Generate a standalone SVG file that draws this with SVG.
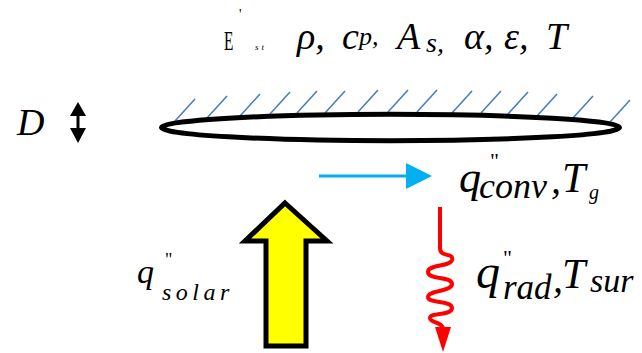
<svg xmlns="http://www.w3.org/2000/svg" width="642" height="353" viewBox="0 0 642 353">
<style>
text{fill:#000}
.m{font-style:italic}
.h{stroke:#4A7EBB;stroke-width:1.6;fill:none}
</style>
<rect width="642" height="353" fill="#fff"/>
<g id="plate">
<g class="h">
<line x1="175" y1="121" x2="195" y2="99"/>
<line x1="207" y1="118" x2="227" y2="96"/>
<line x1="240" y1="116" x2="260" y2="94"/>
<line x1="270" y1="114" x2="290" y2="92"/>
<line x1="297" y1="113" x2="317" y2="91"/>
<line x1="325" y1="113" x2="345" y2="91"/>
<line x1="358" y1="112" x2="378" y2="90"/>
<line x1="388" y1="112" x2="408" y2="90"/>
<line x1="417" y1="112" x2="437" y2="90"/>
<line x1="452" y1="113" x2="472" y2="91"/>
<line x1="481" y1="113" x2="501" y2="91"/>
<line x1="508" y1="114" x2="528" y2="92"/>
<line x1="537" y1="116" x2="557" y2="94"/>
<line x1="573" y1="118" x2="593" y2="96"/>
<line x1="610" y1="122" x2="630" y2="100"/>
</g>
<ellipse cx="390.5" cy="127.5" rx="229" ry="13.2" fill="none" stroke="#000" stroke-width="5"/>
</g>
<g id="all-text" font-family="Liberation Serif, Times New Roman, serif">
<g id="props">
<text x="450" y="50" transform="translate(224,0) scale(0.55,1) translate(-450,0)" font-size="28">E</text>
<text x="239" y="19" font-size="14">'</text>
<text class="m" x="255" y="50" font-size="9" letter-spacing="3">st</text>
<text class="m" x="297" y="49" font-size="38">ρ,</text>
<text class="m" x="342" y="49" font-size="38">c</text>
<text class="m" x="359" y="45" font-size="26">p,</text>
<text class="m" x="397" y="49" font-size="38">A</text>
<text class="m" x="426" y="52" font-size="28">s,</text>
<text class="m" x="464" y="49" font-size="38">α,</text>
<text class="m" x="504" y="49" font-size="38">ε,</text>
<text class="m" x="546" y="49" font-size="38">T</text>
</g>
<g id="thickness">
<text class="m" x="17" y="135" font-size="38">D</text>
<polygon points="78,102 86,116 79.5,116 79.5,128 86,128 78,143 70,128 76.5,128 76.5,116 70,116" fill="#000"/>
</g>
<g id="conv-label">
<text class="m" x="459" y="192" font-size="44">q</text>
<text x="490" y="168" font-size="22">"</text>
<text class="m" x="479" y="198" font-size="36">conv</text>
<text class="m" x="551" y="193" font-size="40">,</text>
<text class="m" x="562" y="192" font-size="42">T</text>
<text class="m" x="589" y="199" font-size="20">g</text>
</g>
<g id="solar-label">
<text class="m" x="137" y="283" font-size="34">q</text>
<text x="165" y="266" font-size="18">"</text>
<text class="m" x="162" y="300" font-size="24" letter-spacing="4.5">solar</text>
</g>
<g id="rad-label">
<text class="m" x="476" y="288" font-size="48">q</text>
<text x="503" y="265" font-size="22">"</text>
<text class="m" x="503" y="299" font-size="35">rad</text>
<text class="m" x="553" y="292" font-size="40">,</text>
<text class="m" x="562" y="288" font-size="42">T</text>
<text class="m" x="590" y="292" font-size="34">sur</text>
</g>
</g>
<g id="connectors">
<g id="conv-arrow">
<line x1="319" y1="176" x2="410" y2="176" stroke="#00B0F0" stroke-width="3"/>
<polygon points="406,163 432,176 406,189" fill="#00B0F0"/>
</g>
<g id="solar-arrow">
<polygon points="285,203 327,241 306,241 306,346 266,346 266,241 245,241" fill="#FFFF00" stroke="#000" stroke-width="5" stroke-linejoin="miter"/>
</g>
<g id="rad-arrow">
<path d="M440,207 V248 C440,258 454,252 452,260 C450,267 428,264 428,272 C428,280 452,276 452,284 C452,292 428,290 428,297 C428,304 452,300 452,308 C452,316 430,312 430,318 C430,323 443,322 443,329" fill="none" stroke="#FF0000" stroke-width="4"/>
<polygon points="435,327 451,327 443,352" fill="#FF0000"/>
</g>
</g>
</svg>
